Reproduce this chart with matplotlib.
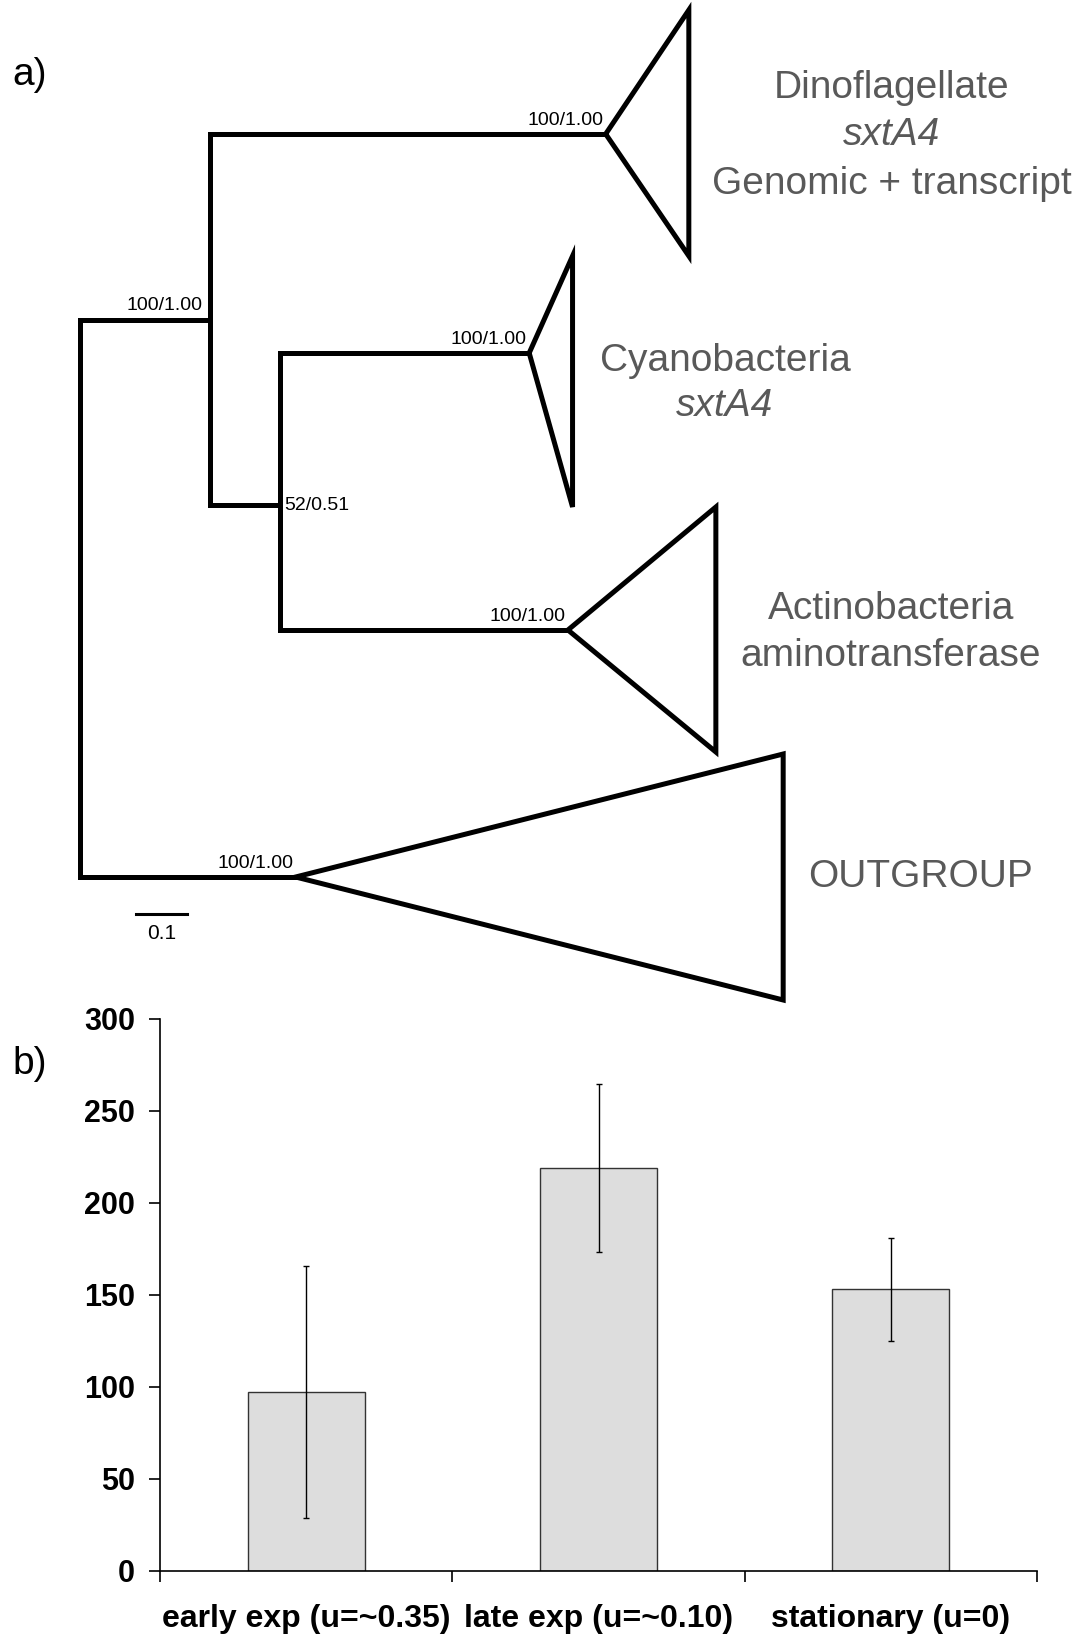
import numpy as np
import matplotlib.pyplot as plt
from matplotlib.patches import Polygon

plt.rcParams['font.family'] = ['Liberation Sans', 'DejaVu Sans']

# ---- panel a) collapsed tree ----
# branch lengths (substitutions/site)
len_root_a = 0.254      # root -> node A
len_a_b = 0.137         # node A -> node B
len_a_dino = 0.776      # node A -> Dinoflagellate clade
len_b_cyano = 0.489     # node B -> Cyanobacteria clade
len_b_actino = 0.565    # node B -> Actinobacteria clade
len_root_out = 0.422    # root -> outgroup clade

# clades: name, depth of collapsed triangle, vertical extent (top, apex, bottom) in tree rows
clade_names = ['dino', 'cyano', 'actino', 'out']
clade_depth = [0.163, 0.085, 0.290, 0.956]
clade_top = [10, 256, 507, 754]
clade_apex = [134, 353, 630, 877]
clade_bottom = [256, 507, 752, 1000]
node_b_row = 505

support_labels = {'root_a': '100/1.00', 'dino': '100/1.00', 'cyano': '100/1.00',
                  'actino': '100/1.00', 'out': '100/1.00', 'b': '52/0.51'}

# group label lines: text, italic?, centre x (px), row
label_text = ['Dinoflagellate', 'sxtA4', 'Genomic + transcript',
              'Cyanobacteria', 'sxtA4',
              'Actinobacteria', 'aminotransferase',
              'OUTGROUP']
label_italic = [False, True, False, False, True, False, False, False]
label_x = [892, 892, 892, 725, 725, 891, 891, 920]
label_row = [88, 135, 184, 361, 406, 609, 656, 877]

scale_bar = 0.1

# ---- panel b) bar chart ----
categories = ['early exp (u=~0.35)', 'late exp (u=~0.10)', 'stationary (u=0)']
values = [97, 219, 153]
errors = [68.5, 45.5, 28]

fig = plt.figure(figsize=(10.84, 16.38), dpi=100)

# tree axes in figure pixel space: 1 substitution unit = 510 px, root at x = 80 px
px_per_unit = 510.0
root_px = 80.4
tree = fig.add_axes([0, 0, 1, 1])
tree.set_xlim(-root_px / px_per_unit, (1084 - root_px) / px_per_unit)
tree.set_ylim(1638, 0)
tree.axis('off')

lw = 3.6
kw = dict(color='black', lw=lw, solid_capstyle='projecting', solid_joinstyle='miter')

x_a = len_root_a
x_b = len_root_a + len_a_b
node_a_row = (clade_apex[0] + node_b_row) / 2

# root vertical and stems
tree.plot([0, 0], [node_a_row, clade_apex[3]], **kw)
tree.plot([0, x_a], [node_a_row, node_a_row], **kw)
tree.plot([0, len_root_out], [clade_apex[3], clade_apex[3]], **kw)
# node A
tree.plot([x_a, x_a], [clade_apex[0], node_b_row], **kw)
tree.plot([x_a, x_a + len_a_dino], [clade_apex[0], clade_apex[0]], **kw)
tree.plot([x_a, x_b], [node_b_row, node_b_row], **kw)
# node B
tree.plot([x_b, x_b], [clade_apex[1], clade_apex[2]], **kw)
tree.plot([x_b, x_b + len_b_cyano], [clade_apex[1], clade_apex[1]], **kw)
tree.plot([x_b, x_b + len_b_actino], [clade_apex[2], clade_apex[2]], **kw)

apex_x = [x_a + len_a_dino, x_b + len_b_cyano, x_b + len_b_actino, len_root_out]
for name, ax0, d, t, a, b in zip(clade_names, apex_x, clade_depth, clade_top, clade_apex, clade_bottom):
    tri = Polygon([[ax0, a], [ax0 + d, t], [ax0 + d, b]], closed=True, fill=False,
                  edgecolor='black', lw=lw, joinstyle='miter')
    tree.add_patch(tri)
    tree.text(ax0 - 0.005, a - 5, support_labels[name], fontsize=14,
              ha='right', va='bottom')

tree.text(x_a - 0.015, node_a_row - 5, support_labels['root_a'], fontsize=14,
          ha='right', va='bottom')
tree.text(x_b + 0.008, node_b_row, support_labels['b'], fontsize=14,
          ha='left', va='center')

for txt, it, gx, gy in zip(label_text, label_italic, label_x, label_row):
    tree.text((gx - root_px) / px_per_unit, gy, txt, fontsize=28, color='#595959',
              ha='center', va='center', style='italic' if it else 'normal')

# scale bar
sb_x0 = (136 - root_px) / px_per_unit
tree.plot([sb_x0, sb_x0 + scale_bar], [914, 914], color='black', lw=2.2)
tree.text(sb_x0 + scale_bar / 2, 924, '0.1', fontsize=15, ha='center', va='top')

fig.text(12 / 1084, 1 - 75 / 1638, 'a)', fontsize=28, ha='left', va='center')
fig.text(12 / 1084, 1 - 1064 / 1638, 'b)', fontsize=28, ha='left', va='center')

# bar chart
ax = fig.add_axes([160 / 1084, (1638 - 1570.7) / 1638, 877 / 1084, 551.7 / 1638])
pos = np.arange(len(categories)) + 0.5
ax.bar(pos, values, width=0.4, color='#dddddd', edgecolor='#333333', linewidth=1.0,
       yerr=errors, capsize=2.5, error_kw=dict(ecolor='black', elinewidth=1.0, capthick=1.0))
ax.set_xlim(0, len(categories))
ax.set_ylim(0, 300)
ax.set_yticks(np.arange(0, 301, 50))
ax.set_xticks(np.arange(0, len(categories) + 1))
ax.set_xticklabels([])
ax.set_xticks(pos, minor=True)
ax.set_xticklabels(categories, minor=True)
ax.tick_params(axis='x', which='minor', length=0, pad=24, labelsize=23)
ax.tick_params(axis='x', which='major', length=8, width=1.2, direction='out')
ax.tick_params(axis='y', length=8, width=1.2, direction='out', labelsize=22, pad=10)
for lab in ax.get_xticklabels(minor=True) + ax.get_yticklabels():
    lab.set_fontweight('bold')
for s in ['top', 'right']:
    ax.spines[s].set_visible(False)
for s in ['left', 'bottom']:
    ax.spines[s].set_linewidth(1.2)
ax.patch.set_alpha(0)

fig.savefig('out.png', dpi=100)
